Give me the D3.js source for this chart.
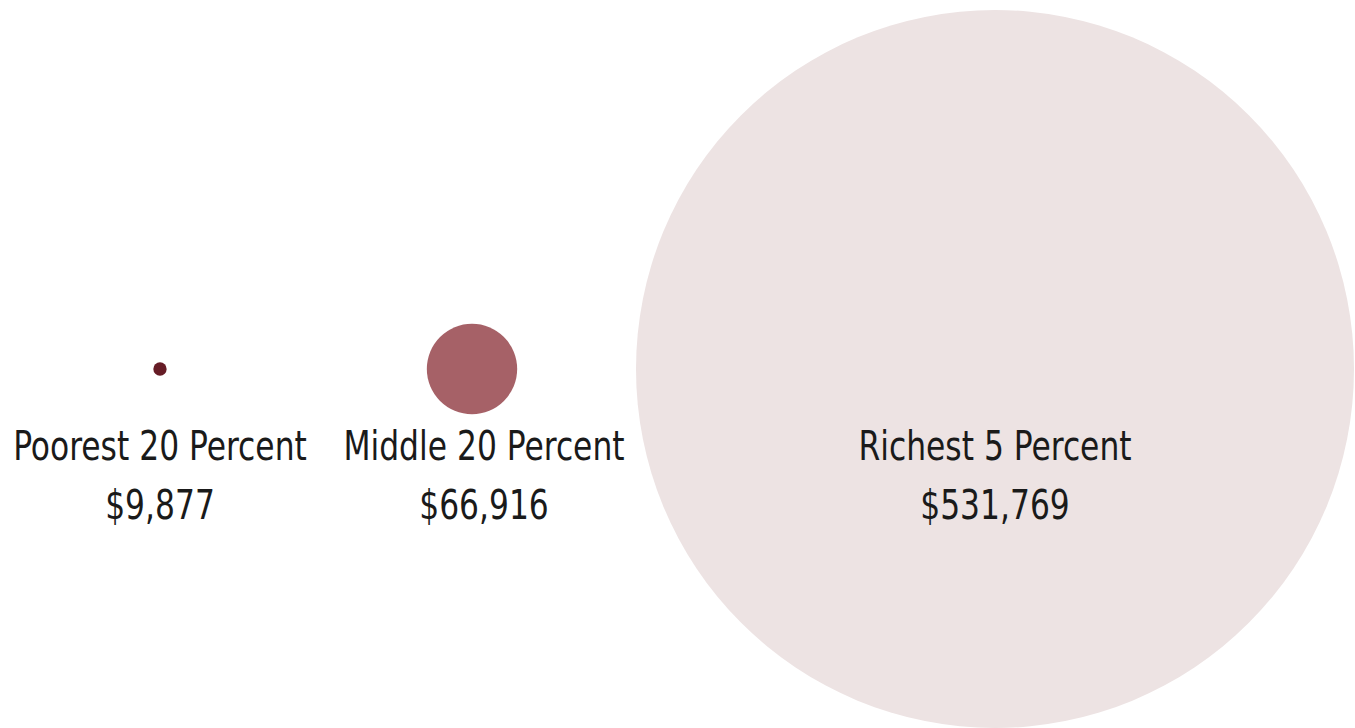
<!DOCTYPE html>
<html>
<head>
<meta charset="utf-8">
<script src="https://cdn.jsdelivr.net/npm/d3@7"></script>
<style>
  body { margin: 0; background: #fff; }
  svg text { font-family: "DejaVu Sans Condensed", "DejaVu Sans", sans-serif; font-stretch: condensed; fill: #1a1a1a; }
</style>
</head>
<body>
<svg id="chart"></svg>
<script>
let w = 1355;
let h = 728;

// income groups and their average income
let groups = ["Poorest 20 Percent", "Middle 20 Percent", "Richest 5 Percent"];
let incomes = [9877, 66916, 531769];
let colors = ["#661c26", "#a66167", "#ede3e3"];

let dataset = groups.map((g, i) => ({ group: g, income: incomes[i], color: colors[i] }));

let svg = d3.select("#chart")
  .attr("width", w)
  .attr("height", h);

// radius grows linearly with income
let rScale = d3.scaleLinear()
  .domain([0, d3.max(incomes)])
  .range([0, 359]);

// centre of each group along the row
let xScale = d3.scaleOrdinal()
  .domain(groups)
  .range([160, 472, 995]);

let labelShift = d3.scaleOrdinal()
  .domain(groups)
  .range([0, 12, 0]);

let cy = 369;
let fmt = d3.format("$,");
let squeeze = 0.85; // fake a condensed face

let g = svg.selectAll("g.group")
  .data(dataset, (d) => d.group)
  .enter()
  .append("g")
  .attr("class", "group");

g.append("circle")
  .attr("cx", (d) => xScale(d.group))
  .attr("cy", cy)
  .attr("r", (d) => rScale(d.income))
  .attr("fill", (d) => d.color);

g.append("text")
  .attr("x", (d) => xScale(d.group) + labelShift(d.group))
  .attr("y", 460)
  .text((d) => d.group);

g.append("text")
  .attr("x", (d) => xScale(d.group) + labelShift(d.group))
  .attr("y", 519)
  .text((d) => fmt(d.income));

svg.selectAll("text")
  .attr("text-anchor", "middle")
  .style("font-size", "41px")
  .each(function () {
    let len = this.getComputedTextLength();
    d3.select(this)
      .attr("textLength", len * squeeze)
      .attr("lengthAdjust", "spacingAndGlyphs");
  });
</script>
</body>
</html>
